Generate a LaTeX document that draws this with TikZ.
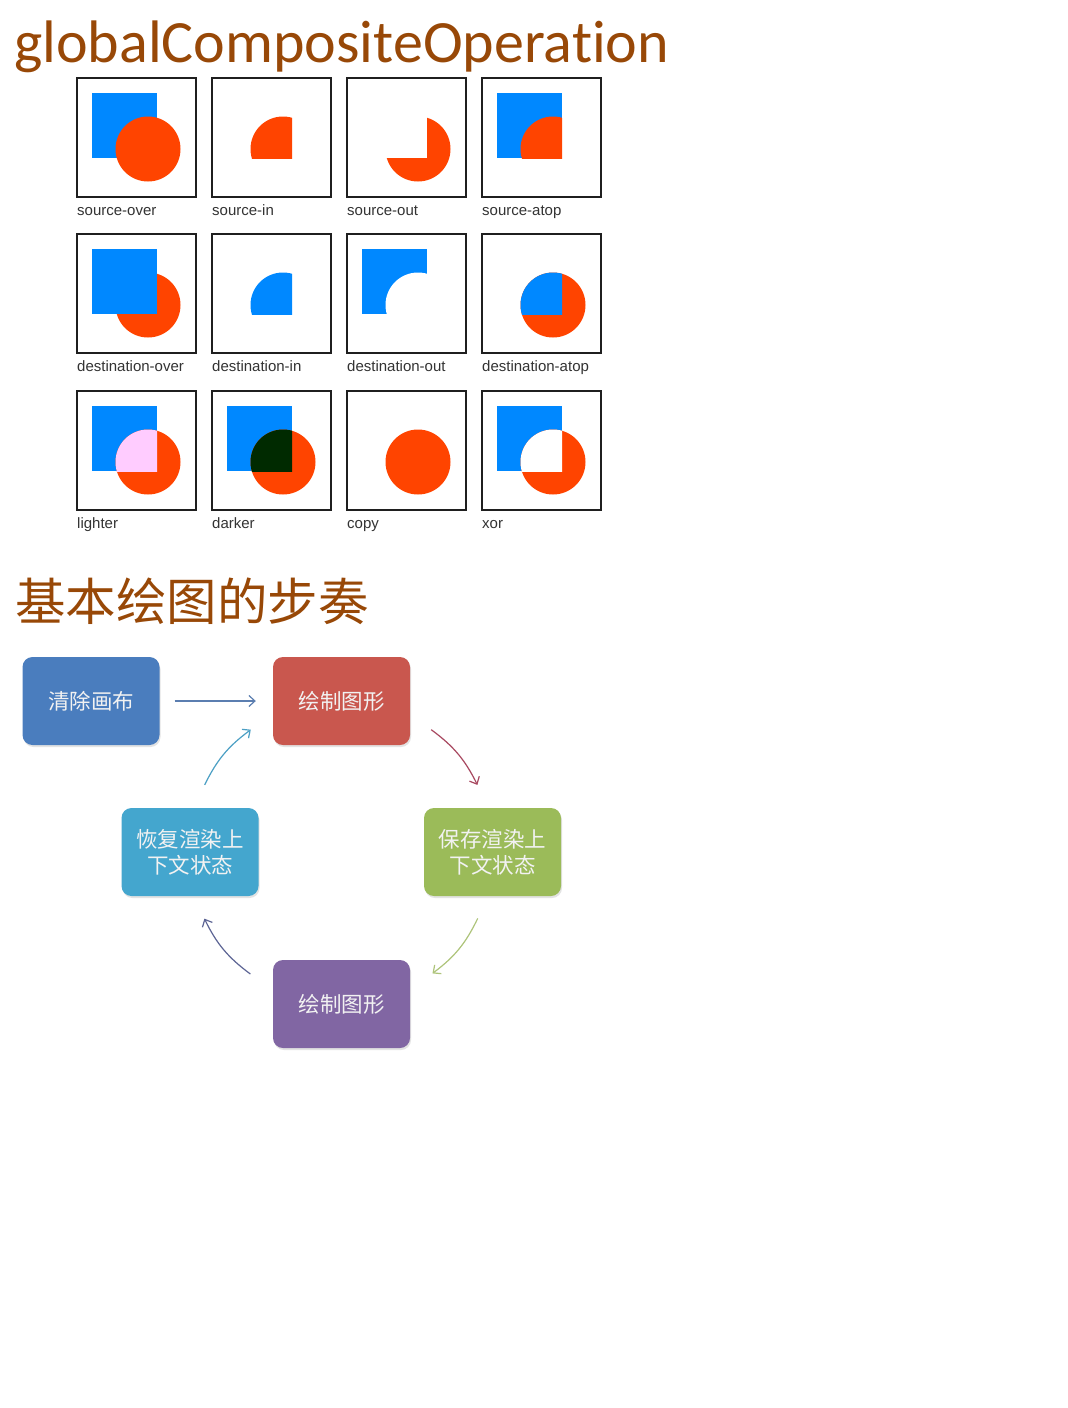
\documentclass[tikz,border=0pt]{standalone}
\usepackage{fontspec}
\setmainfont{Liberation Sans}
\newfontfamily\carlito[RawFeature={-liga;-dlig;-clig}]{Carlito}
\newfontfamily\cjk{Noto Sans CJK SC}
\usetikzlibrary{calc,shadows,arrows.meta}
\definecolor{cblue}{HTML}{0088FF}
\definecolor{cred}{HTML}{FF4400}
\definecolor{cpink}{HTML}{FFCCFF}
\definecolor{cdark}{HTML}{002A00}
\definecolor{titlebrown}{HTML}{984807}
\definecolor{fblue}{HTML}{4A7DBE}
\definecolor{fred}{HTML}{C9574E}
\definecolor{fcyan}{HTML}{44A6CE}
\definecolor{fgreen}{HTML}{9BBB59}
\definecolor{fpurple}{HTML}{8166A3}
\definecolor{ablue}{HTML}{5B7EB0}
\definecolor{ared}{HTML}{A84860}
\definecolor{agreen}{HTML}{AEC47A}
\definecolor{aslate}{HTML}{5D6595}
\definecolor{ateal}{HTML}{4B9FC4}
\newcommand\sqpath{(15,-15) rectangle (80,-80)}
\newcommand\cipath{(71,-71) circle[radius=32.5]}
\tikzset{
  cframe/.style={draw=black!88, line width=2pt},
  clabel/.style={anchor=base west, inner sep=0pt, text=black!80, font=\fontsize{15}{18}\selectfont},
  flow/.style={rounded corners=10pt, minimum width=137pt, minimum height=88pt, inner sep=0pt,
    text=white!95!black, font=\cjk\fontsize{21.5}{26}\selectfont, align=center,
    drop shadow={opacity=0.22, shadow xshift=1pt, shadow yshift=-2pt}},
  flowarrow/.style={-{Straight Barb[length=6pt,width=11pt]}, line width=1.2pt},
}
\begin{document}
\begin{tikzpicture}[x=1pt,y=1pt]
\useasboundingbox[fill=white] (0,0) rectangle (1068,-1408);
\node[anchor=base west, inner sep=0pt, text=titlebrown, font=\carlito\fontsize{60}{70}\selectfont] (title) at (14,-62) {globalCompositeOperation};
% row 1
\begin{scope}[shift={(77,-78)}]
  \fill[cblue] \sqpath; \fill[cred] \cipath;
  \draw[cframe] (0,0) rectangle (119,-119);
  \node[clabel] (l1) at (0,-137) {source-over};
\end{scope}
\begin{scope}[shift={(212,-78)}]
  \begin{scope}\clip \sqpath; \fill[cred] \cipath; \end{scope}
  \draw[cframe] (0,0) rectangle (119,-119);
  \node[clabel] (l2) at (0,-137) {source-in};
\end{scope}
\begin{scope}[shift={(347,-78)}]
  \fill[cred] \cipath; \fill[white] \sqpath;
  \draw[cframe] (0,0) rectangle (119,-119);
  \node[clabel] (l3) at (0,-137) {source-out};
\end{scope}
\begin{scope}[shift={(482,-78)}]
  \fill[cblue] \sqpath;
  \begin{scope}\clip \sqpath; \fill[cred] \cipath; \end{scope}
  \draw[cframe] (0,0) rectangle (119,-119);
  \node[clabel] (l4) at (0,-137) {source-atop};
\end{scope}
% row 2
\begin{scope}[shift={(77,-234)}]
  \fill[cred] \cipath; \fill[cblue] \sqpath;
  \draw[cframe] (0,0) rectangle (119,-119);
  \node[clabel] (l5) at (0,-137) {destination-over};
\end{scope}
\begin{scope}[shift={(212,-234)}]
  \begin{scope}\clip \sqpath; \fill[cblue] \cipath; \end{scope}
  \draw[cframe] (0,0) rectangle (119,-119);
  \node[clabel] (l6) at (0,-137) {destination-in};
\end{scope}
\begin{scope}[shift={(347,-234)}]
  \fill[cblue] \sqpath; \fill[white] \cipath;
  \draw[cframe] (0,0) rectangle (119,-119);
  \node[clabel] (l7) at (0,-137) {destination-out};
\end{scope}
\begin{scope}[shift={(482,-234)}]
  \fill[cred] \cipath;
  \begin{scope}\clip \sqpath; \fill[cblue] \cipath; \end{scope}
  \draw[cframe] (0,0) rectangle (119,-119);
  \node[clabel] (l8) at (0,-137) {destination-atop};
\end{scope}
% row 3
\begin{scope}[shift={(77,-391)}]
  \fill[cblue] \sqpath; \fill[cred] \cipath;
  \begin{scope}\clip \sqpath; \fill[cpink] \cipath; \end{scope}
  \draw[cframe] (0,0) rectangle (119,-119);
  \node[clabel] (l9) at (0,-137) {lighter};
\end{scope}
\begin{scope}[shift={(212,-391)}]
  \fill[cblue] \sqpath; \fill[cred] \cipath;
  \begin{scope}\clip \sqpath; \fill[cdark] \cipath; \end{scope}
  \draw[cframe] (0,0) rectangle (119,-119);
  \node[clabel] (l10) at (0,-137) {darker};
\end{scope}
\begin{scope}[shift={(347,-391)}]
  \fill[cred] \cipath;
  \draw[cframe] (0,0) rectangle (119,-119);
  \node[clabel] (l11) at (0,-137) {copy};
\end{scope}
\begin{scope}[shift={(482,-391)}]
  \fill[cblue] \sqpath; \fill[cred] \cipath;
  \begin{scope}\clip \sqpath; \fill[white] \cipath; \end{scope}
  \draw[cframe] (0,0) rectangle (119,-119);
  \node[clabel] (l12) at (0,-137) {xor};
\end{scope}
% second title
\node[anchor=base west, inner sep=0pt, text=titlebrown, font=\cjk\fontsize{50.5}{60}\selectfont] (title2) at (15,-620) {基本绘图的步奏};
% flow nodes
\node[flow, fill=fblue] (clear) at (91,-701) {清除画布};
\node[flow, fill=fred] (drawA) at (341.5,-701) {绘制图形};
\node[flow, fill=fcyan] (restore) at (190,-852) {恢复渲染上\\下文状态};
\node[flow, fill=fgreen] (save) at (492.5,-852) {保存渲染上\\下文状态};
\node[flow, fill=fpurple] (drawB) at (341.5,-1004) {绘制图形};
% arrows
\coordinate (cc) at (341,-852);
\coordinate (a1) at ($(cc)+(153.8:152)$);
\coordinate (a2) at ($(cc)+(126.4:152)$);
\coordinate (b1) at ($(cc)+(53.6:152)$);
\coordinate (b2) at ($(cc)+(26.2:152)$);
\coordinate (g1) at ($(cc)+(-25.9:152)$);
\coordinate (g2) at ($(cc)+(-53:152)$);
\coordinate (p1) at ($(cc)+(-126.6:152)$);
\coordinate (p2) at ($(cc)+(-154:152)$);
\draw[flowarrow, ablue, shorten <=15pt, shorten >=17pt] (clear.east) -- (drawA.west);
\draw[flowarrow, ared] (b1) to[bend left=13.7] (b2);
\draw[flowarrow, agreen] (g1) to[bend left=13.7] (g2);
\draw[flowarrow, aslate] (p1) to[bend left=13.7] (p2);
\draw[flowarrow, ateal] (a1) to[bend left=13.7] (a2);
\end{tikzpicture}
\end{document}
